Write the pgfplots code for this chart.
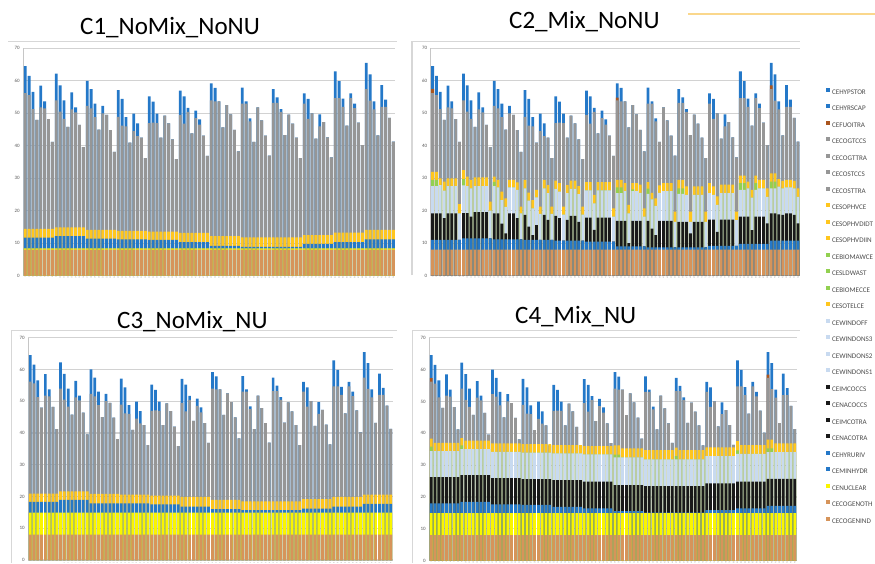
\documentclass[border=0pt]{standalone}
\usepackage{fontspec}
\setmainfont{Carlito}
\usepackage{pgfplots}
\usepackage{pgfplotstable}
\pgfplotsset{compat=1.18}

\definecolor{cOrange}{RGB}{214,148,90}
\definecolor{cNuc}{RGB}{250,245,0}
\definecolor{cHyd}{RGB}{36,120,200}
\definecolor{cSol}{RGB}{255,198,30}
\definecolor{cGrey}{RGB}{150,150,150}
\definecolor{cLB}{RGB}{200,218,240}
\definecolor{cBlk}{RGB}{25,25,25}
\definecolor{cGrn}{RGB}{146,208,80}
\definecolor{cBrn}{RGB}{170,85,30}
\definecolor{cFrame}{RGB}{215,215,215}
\definecolor{cDeco}{RGB}{250,215,140}

% tops of each layer, bar by bar (layers are drawn over each other from 0)
% T total, G top of fossil (grey), O CHP, Na/Nb nuclear (C1 / C3,C4)
% S,H = solar and hydro tops in C1/C3; H2 K2 L2 E2 Y2 = hydro, coal, wind, bio, solar tops in C2; same for C4
\pgfplotstableread{
x T G O Na Nb S1 H1 S3 H3 H2 K2 L2 E2 Y2 H4 K4 L4 E4 Y4
1 64.5 56.2 8 8.4 14.9 14.4 11.7 20.9 18.3 11.0 19.2 27.6 29.5 32.0 18.0 26.2 34.4 35.8 38.3
2 61.5 55.6 8 8.4 14.9 14.4 11.7 20.9 18.3 11.0 19.2 27.6 29.5 32.0 18.0 26.2 34.4 34.4 37.0
3 56.6 51.3 8 8.4 14.9 14.4 11.7 20.9 18.3 11.0 19.2 27.9 27.9 30.0 18.0 26.2 34.4 34.4 37.0
4 48.0 48.0 8 8.4 14.9 14.4 11.7 20.9 18.3 11.0 17.7 26.2 26.2 29.0 18.0 26.2 34.4 34.4 37.0
5 58.5 51.8 8 8.4 14.9 14.4 11.7 20.9 18.3 11.0 19.2 27.6 27.6 30.0 18.0 26.2 34.4 34.4 37.0
6 53.7 51.5 8 8.4 14.9 14.4 11.7 20.9 18.3 11.0 19.2 27.6 27.6 30.0 18.0 26.2 34.4 34.4 37.0
7 48.2 48.2 8 8.4 14.9 14.4 11.7 20.9 18.3 11.0 19.2 27.6 27.6 30.0 18.0 26.2 34.4 34.4 37.0
8 41.2 41.2 8 8.4 14.9 14.4 11.7 20.9 18.3 11.0 11.0 19.2 19.2 22.0 18.0 26.2 34.4 34.4 37.0
9 62.2 54.0 8 8.4 14.9 14.9 12.2 21.6 18.9 11.5 19.3 27.8 29.7 32.5 18.5 26.9 35.0 36.2 38.5
10 58.6 50.5 8 8.4 14.9 14.9 12.2 21.6 18.9 11.5 19.3 27.6 27.6 30.5 18.5 26.9 35.0 35.0 37.7
11 54.0 48.3 8 8.4 14.9 14.9 12.2 21.6 18.9 11.5 18.2 26.9 26.9 29.5 18.5 26.9 35.0 35.0 37.7
12 45.8 45.8 8 8.4 14.9 14.9 12.2 21.6 18.9 11.5 19.6 27.6 27.6 30.3 18.5 26.9 35.0 35.0 37.7
13 56.4 51.2 8 8.4 14.9 14.9 12.2 21.6 18.9 11.5 19.6 27.6 27.6 30.3 18.5 26.9 35.0 35.0 37.7
14 51.8 50.3 8 8.4 14.9 14.9 12.2 21.6 18.9 11.5 19.6 27.6 27.6 30.3 18.5 26.9 35.0 35.0 37.7
15 46.4 46.4 8 8.4 14.9 14.9 12.2 21.6 18.9 11.5 19.6 27.6 27.6 30.3 18.5 26.9 35.0 35.0 37.7
16 39.6 39.6 8 8.4 14.9 14.9 12.2 21.6 18.9 11.5 11.5 20.0 20.0 22.8 18.5 26.9 35.0 35.0 37.7
17 60.0 52.3 8 8.4 14.9 14.1 11.4 20.8 17.8 11.2 19.2 27.6 28.9 30.5 17.7 25.9 34.2 34.2 36.8
18 57.4 51.5 8 8.4 14.9 14.1 11.4 20.8 17.8 11.2 19.2 27.2 27.2 29.5 17.7 25.9 34.2 34.2 36.8
19 53.0 48.8 8 8.4 14.9 14.1 11.4 20.8 17.8 11.2 16.0 23.3 23.3 25.9 17.7 25.9 34.2 34.2 36.8
20 45.0 45.0 8 8.4 14.9 14.1 11.4 20.8 17.8 11.2 13.0 21.2 21.2 23.8 17.7 25.9 34.2 34.2 36.8
21 52.3 50.0 8 8.4 14.9 14.1 11.4 20.8 17.8 11.2 19.2 27.2 27.2 29.5 17.7 25.9 34.2 34.2 36.8
22 49.5 49.5 8 8.4 14.9 14.1 11.4 20.8 17.8 11.2 19.2 27.2 27.2 29.5 17.7 25.9 34.2 34.2 36.8
23 44.8 44.8 8 8.4 14.9 14.1 11.4 20.8 17.8 11.2 17.7 26.4 26.4 28.7 17.7 25.9 34.2 34.2 36.8
24 38.1 38.1 8 8.4 14.9 14.1 11.4 20.8 17.8 11.2 11.2 19.2 19.2 21.3 17.7 25.9 34.2 34.2 36.8
25 57.1 48.9 8 8.4 14.9 13.8 11.2 20.6 17.8 11.0 18.7 26.9 26.9 29.5 17.5 25.6 33.9 33.9 36.6
26 54.4 46.2 8 8.4 14.9 13.8 11.2 20.6 17.8 11.0 15.1 23.1 23.1 25.6 17.5 25.6 33.9 33.9 36.6
27 48.8 46.0 8 8.4 14.9 13.8 11.2 20.6 17.8 11.0 12.5 20.7 20.7 23.3 17.5 25.6 33.9 33.9 36.6
28 41.0 41.0 8 8.4 14.9 13.8 11.2 20.6 17.8 11.0 15.6 24.1 24.1 26.4 17.5 25.6 33.9 33.9 36.6
29 49.9 44.5 8 8.4 14.9 13.8 11.2 20.6 17.8 11.0 11.0 19.0 19.0 21.3 17.5 25.6 33.9 33.9 36.6
30 46.9 43.0 8 8.4 14.9 13.8 11.2 20.6 17.8 11.0 18.7 26.9 26.9 29.5 17.5 25.6 33.9 33.9 36.6
31 42.5 42.5 8 8.4 14.9 13.8 11.2 20.6 17.8 11.0 17.2 25.4 25.4 27.9 17.5 25.6 33.9 33.9 36.6
32 36.2 36.2 8 8.4 14.9 13.8 11.2 20.6 17.8 11.0 11.0 19.0 19.0 21.3 17.5 25.6 33.9 33.9 36.6
33 55.2 47.0 8 8.4 14.9 13.6 11.0 20.3 17.5 10.8 18.4 26.7 26.7 29.3 16.9 25.3 33.7 33.7 36.3
34 53.6 47.1 8 8.4 14.9 13.6 11.0 20.3 17.5 10.8 17.7 25.9 25.9 28.5 16.9 25.3 33.7 33.7 36.3
35 49.9 47.0 8 8.4 14.9 13.6 11.0 20.3 17.5 10.8 10.8 18.8 18.8 21.3 16.9 25.3 33.7 33.7 36.3
36 42.5 42.5 8 8.4 14.9 13.6 11.0 20.3 17.5 10.8 17.2 25.4 25.4 27.9 16.9 25.3 33.7 33.7 36.3
37 49.3 49.3 8 8.4 14.9 13.6 11.0 20.3 17.5 10.8 18.4 26.7 26.7 29.3 16.9 25.3 33.7 33.7 36.3
38 46.9 46.9 8 8.4 14.9 13.6 11.0 20.3 17.5 10.8 18.4 26.7 26.7 29.3 16.9 25.3 33.7 33.7 36.3
39 42.0 42.0 8 8.4 14.9 13.6 11.0 20.3 17.5 10.8 16.6 25.1 25.1 27.6 16.9 25.3 33.7 33.7 36.3
40 35.9 35.9 8 8.4 14.9 13.6 11.0 20.3 17.5 10.8 10.8 18.8 18.8 21.3 16.9 25.3 33.7 33.7 36.3
41 57.0 49.5 8 8.4 14.9 13.2 10.3 19.9 16.8 10.5 17.9 26.3 26.3 28.8 16.4 24.8 33.4 33.4 36.0
42 55.2 46.8 8 8.4 14.9 13.2 10.3 19.9 16.8 10.5 17.9 26.3 26.3 28.8 16.4 24.8 33.4 33.4 36.0
43 51.7 50.4 8 8.4 14.9 13.2 10.3 19.9 16.8 10.5 14.1 22.3 22.3 24.9 16.4 24.8 33.4 33.4 36.0
44 43.8 43.8 8 8.4 14.9 13.2 10.3 19.9 16.8 10.5 17.9 26.3 26.3 28.8 16.4 24.8 33.4 33.4 36.0
45 50.8 48.5 8 8.4 14.9 13.2 10.3 19.9 16.8 10.5 17.9 26.3 26.3 28.8 16.4 24.8 33.4 33.4 36.0
46 48.1 46.5 8 8.4 14.9 13.2 10.3 19.9 16.8 10.5 17.9 26.3 26.3 28.8 16.4 24.8 33.4 33.4 36.0
47 43.1 43.1 8 8.4 14.9 13.2 10.3 19.9 16.8 10.5 17.9 26.3 26.3 28.8 16.4 24.8 33.4 33.4 36.0
48 36.9 36.9 8 8.4 14.9 13.2 10.3 19.9 16.8 10.5 10.5 18.2 18.2 20.7 16.4 24.8 33.4 33.4 36.0
49 59.2 54.0 8 8.4 14.9 12.2 9.2 18.9 16.0 9.0 16.9 25.4 27.2 29.5 15.6 23.7 32.4 33.3 36.2
50 57.8 53.7 8 8.4 14.9 12.2 9.2 18.9 16.0 9.0 16.9 25.4 27.2 29.5 15.6 23.7 32.4 33.3 36.2
51 53.7 53.7 8 8.4 14.9 12.2 9.2 18.9 16.0 9.0 16.9 26.0 26.0 28.5 15.6 23.7 32.4 32.4 35.3
52 45.7 45.7 8 8.4 14.9 12.2 9.2 18.9 16.0 9.0 10.0 19.2 19.2 21.8 15.6 23.7 32.4 32.4 35.3
53 52.5 52.5 8 8.4 14.9 12.2 9.2 18.9 16.0 9.0 16.9 26.0 26.6 28.5 15.6 23.7 32.4 32.4 35.3
54 49.7 49.7 8 8.4 14.9 12.2 9.2 18.9 16.0 9.0 16.9 26.0 26.0 28.5 15.6 23.7 32.4 32.4 35.3
55 44.9 44.9 8 8.4 14.9 12.2 9.2 18.9 16.0 9.0 16.9 25.5 25.5 28.0 15.6 23.7 32.4 32.4 35.3
56 38.3 38.3 8 8.4 14.9 12.2 9.2 18.9 16.0 9.0 9.0 18.2 18.2 20.7 15.6 23.7 32.4 32.4 35.3
57 57.9 53.0 8 8.4 14.9 11.8 8.9 18.5 15.7 8.7 16.9 25.2 26.8 28.8 15.1 23.4 31.8 31.8 34.7
58 53.7 53.0 8 8.4 14.9 11.8 8.9 18.5 15.7 8.7 14.5 23.5 23.5 25.5 15.1 23.4 31.8 31.8 34.7
59 48.4 47.5 8 8.4 14.9 11.8 8.9 18.5 15.7 8.7 12.5 21.5 21.5 23.8 15.1 23.4 31.8 31.8 34.7
60 41.2 41.2 8 8.4 14.9 11.8 8.9 18.5 15.7 8.7 16.9 25.5 25.5 27.8 15.1 23.4 31.8 31.8 34.7
61 51.8 51.8 8 8.4 14.9 11.8 8.9 18.5 15.7 8.7 16.9 26.0 26.0 28.5 15.1 23.4 31.8 31.8 34.7
62 47.8 47.8 8 8.4 14.9 11.8 8.9 18.5 15.7 8.7 16.9 26.0 26.0 28.5 15.1 23.4 31.8 31.8 34.7
63 43.1 43.1 8 8.4 14.9 11.8 8.9 18.5 15.7 8.7 16.9 26.0 26.0 28.5 15.1 23.4 31.8 31.8 34.7
64 37.0 37.0 8 8.4 14.9 11.8 8.9 18.5 15.7 8.7 8.7 16.6 16.6 19.7 15.1 23.4 31.8 31.8 34.7
65 57.4 53.2 8 8.4 14.9 11.8 8.9 18.5 15.7 8.7 16.6 25.2 26.9 29.5 15.1 23.4 31.8 32.8 35.5
66 54.9 53.2 8 8.4 14.9 11.8 8.9 18.5 15.7 8.7 16.6 25.2 26.9 29.5 15.1 23.4 31.8 31.8 34.7
67 51.3 50.4 8 8.4 14.9 11.8 8.9 18.5 15.7 8.7 16.6 24.9 24.9 27.5 15.1 23.4 31.8 31.8 34.7
68 43.3 43.3 8 8.4 14.9 11.8 8.9 18.5 15.7 8.7 13.0 16.6 16.6 19.7 15.1 23.4 31.8 31.8 34.7
69 49.6 49.6 8 8.4 14.9 11.8 8.9 18.5 15.7 8.7 16.6 24.9 24.9 27.5 15.1 23.4 31.8 31.8 34.7
70 46.8 46.8 8 8.4 14.9 11.8 8.9 18.5 15.7 8.7 16.6 24.9 24.9 27.5 15.1 23.4 31.8 31.8 34.7
71 42.5 42.5 8 8.4 14.9 11.8 8.9 18.5 15.7 8.7 16.6 24.9 24.9 27.5 15.1 23.4 31.8 31.8 34.7
72 36.2 36.2 8 8.4 14.9 11.8 8.9 18.5 15.7 8.7 8.7 16.6 16.6 19.7 15.1 23.4 31.8 31.8 34.7
73 56.1 53.0 8 8.4 14.9 12.5 9.8 19.2 16.2 9.2 17.3 25.4 25.4 28.5 15.9 24.3 32.8 32.8 35.6
74 54.4 48.3 8 8.4 14.9 12.5 9.8 19.2 16.2 9.2 17.3 24.9 24.9 27.5 15.9 24.3 32.8 32.8 35.6
75 50.0 50.0 8 8.4 14.9 12.5 9.8 19.2 16.2 9.2 13.5 21.8 21.8 24.4 15.9 24.3 32.8 32.8 35.6
76 42.2 42.2 8 8.4 14.9 12.5 9.8 19.2 16.2 9.2 17.3 25.4 25.4 28.0 15.9 24.3 32.8 32.8 35.6
77 49.7 46.0 8 8.4 14.9 12.5 9.8 19.2 16.2 9.2 17.3 25.4 25.4 28.0 15.9 24.3 32.8 32.8 35.6
78 47.3 47.3 8 8.4 14.9 12.5 9.8 19.2 16.2 9.2 17.3 25.4 25.4 28.0 15.9 24.3 32.8 32.8 35.6
79 42.6 42.6 8 8.4 14.9 12.5 9.8 19.2 16.2 9.2 17.3 25.4 25.4 28.0 15.9 24.3 32.8 32.8 35.6
80 36.4 36.4 8 8.4 14.9 12.5 9.8 19.2 16.2 9.2 9.2 17.1 17.1 19.7 15.9 24.3 32.8 32.8 35.6
81 62.9 54.7 8 8.4 14.9 13.3 10.3 19.9 16.8 9.8 18.2 26.4 28.5 30.8 16.4 24.8 33.5 34.6 37.5
82 59.9 54.7 8 8.4 14.9 13.3 10.3 19.9 16.8 9.8 18.2 26.4 28.5 30.8 16.4 24.8 33.5 33.5 36.3
83 54.5 52.0 8 8.4 14.9 13.3 10.3 19.9 16.8 9.8 18.2 26.9 26.9 29.0 16.4 24.8 33.5 33.5 36.3
84 46.2 46.2 8 8.4 14.9 13.3 10.3 19.9 16.8 9.8 14.0 24.0 24.0 26.4 16.4 24.8 33.5 33.5 36.3
85 56.1 54.7 8 8.4 14.9 13.3 10.3 19.9 16.8 9.8 18.2 26.4 28.5 30.8 16.4 24.8 33.5 33.5 36.3
86 53.0 51.6 8 8.4 14.9 13.3 10.3 19.9 16.8 9.8 18.2 26.9 26.9 29.5 16.4 24.8 33.5 33.5 36.3
87 47.1 47.1 8 8.4 14.9 13.3 10.3 19.9 16.8 9.8 18.2 26.9 26.9 29.5 16.4 24.8 33.5 33.5 36.3
88 40.2 40.2 8 8.4 14.9 13.3 10.3 19.9 16.8 9.8 16.1 24.3 24.3 26.9 16.4 24.8 33.5 33.5 36.3
89 65.5 57.4 8 8.4 14.9 14.1 11.2 20.6 17.7 10.8 19.2 26.9 29.0 31.5 17.2 25.7 34.1 35.3 38.0
90 62.0 53.9 8 8.4 14.9 14.1 11.2 20.6 17.7 10.8 19.2 26.9 29.0 31.5 17.2 25.7 34.1 35.3 38.0
91 53.7 51.2 8 8.4 14.9 14.1 11.2 20.6 17.7 10.8 18.9 27.4 27.4 29.7 17.2 25.7 34.1 34.1 36.8
92 43.2 43.2 8 8.4 14.9 14.1 11.2 20.6 17.7 10.8 18.7 26.9 26.9 29.2 17.2 25.7 34.1 34.1 36.8
93 58.7 52.0 8 8.4 14.9 14.1 11.2 20.6 17.7 10.8 19.2 27.2 27.2 29.5 17.2 25.7 34.1 34.1 36.8
94 54.2 52.0 8 8.4 14.9 14.1 11.2 20.6 17.7 10.8 19.2 27.2 27.2 29.5 17.2 25.7 34.1 34.1 36.8
95 48.6 48.6 8 8.4 14.9 14.1 11.2 20.6 17.7 10.8 18.7 26.9 26.9 29.2 17.2 25.7 34.1 34.1 36.8
96 41.3 41.3 8 8.4 14.9 14.1 11.2 20.6 17.7 10.8 16.1 24.3 24.3 26.9 17.2 25.7 34.1 34.1 36.8
}\data

\pgfplotsset{
  panel/.style={
    scale only axis, anchor=south west,
    xmin=0.5, xmax=96.5, ymin=0, ymax=70,
    ytick={0,10,...,70}, ymajorgrids,
    grid style={line width=1.1pt, gray!35},
    axis x line*=bottom, axis y line*=left,
    axis line style={gray!45, line width=0.6pt},
    ytick style={draw=none},
    xtick={1,...,96}, major tick length=1.2pt,
    xtick style={gray!50, line width=0.3pt},
    /pgf/number format/assume math mode=true,
    yticklabel style={font=\fontsize{5}{6}\selectfont, text=gray!70!black},
    xticklabel style={font=\fontsize{2.2}{2.5}\selectfont, text=gray!70, rotate=90, anchor=east, inner sep=0.6pt},
    every axis plot/.append style={ybar, bar width=0.72, bar shift=0pt, draw=none},
  },
}
\newcommand\legitem[2]{\addlegendimage{fill=#1}\addlegendentry{#2}}

\begin{document}
\begin{tikzpicture}
\path[use as bounding box] (0,0) rectangle (875pt,-563pt);

% chart frames and slide decoration
\draw[cFrame, line width=1.2pt] (8pt,-41.7pt) -- (397pt,-41.7pt);
\draw[cFrame, line width=1.2pt] (412pt,-275pt) -- (412pt,-41.7pt) -- (800pt,-41.7pt);
\draw[cFrame, line width=1.2pt] (11.7pt,-563pt) -- (11.7pt,-330.7pt) -- (397pt,-330.7pt);
\draw[cFrame, line width=1.2pt] (412.7pt,-563pt) -- (412.7pt,-330.7pt) -- (800pt,-330.7pt);
\draw[cDeco, line width=1.6pt] (688pt,-14pt) -- (875pt,-14pt);

% titles
\node[anchor=base west, inner sep=0pt, font=\fontsize{25}{30}\selectfont] at (80pt,-34pt) {C1\_NoMix\_NoNU};
\node[anchor=base west, inner sep=0pt, font=\fontsize{25}{30}\selectfont] at (509pt,-28pt) {C2\_Mix\_NoNU};
\node[anchor=base west, inner sep=0pt, font=\fontsize{25}{30}\selectfont] at (117pt,-328pt) {C3\_NoMix\_NU};
\node[anchor=base west, inner sep=0pt, font=\fontsize{25}{30}\selectfont] at (515pt,-323pt) {C4\_Mix\_NU};

% C1
\begin{axis}[panel, at={(23.3pt,-275.7pt)}, width=372pt, height=227.4pt]
\addplot[fill=cHyd] table[x=x, y=T] {\data};
\addplot[fill=cGrey] table[x=x, y=G] {\data};
\addplot[fill=cSol] table[x=x, y=S1] {\data};
\addplot[fill=cHyd] table[x=x, y=H1] {\data};
\addplot[fill=cNuc] table[x=x, y=Na] {\data};
\addplot[fill=cOrange] table[x=x, y=O] {\data};
\end{axis}

% C2
\begin{axis}[panel, at={(430.7pt,-275.7pt)}, width=369.3pt, height=227.4pt]
\addplot[fill=cHyd] table[x=x, y=T] {\data};
\addplot[fill=cBrn] coordinates {(1,57.5) (49,54.8) (89,58.6)};
\addplot[fill=cGrey] table[x=x, y=G] {\data};
\addplot[fill=cSol] table[x=x, y=Y2] {\data};
\addplot[fill=cGrn] table[x=x, y=E2] {\data};
\addplot[fill=cLB] table[x=x, y=L2] {\data};
\addplot[fill=cBlk] table[x=x, y=K2] {\data};
\addplot[fill=cHyd] table[x=x, y=H2] {\data};
\addplot[fill=cOrange] table[x=x, y=O] {\data};
\end{axis}

% C3
\begin{axis}[panel, at={(28.3pt,-560pt)}, width=364.4pt, height=222.3pt]
\addplot[fill=cHyd] table[x=x, y=T] {\data};
\addplot[fill=cGrey] table[x=x, y=G] {\data};
\addplot[fill=cSol] table[x=x, y=S3] {\data};
\addplot[fill=cHyd] table[x=x, y=H3] {\data};
\addplot[fill=cNuc] table[x=x, y=Nb] {\data};
\addplot[fill=cOrange] table[x=x, y=O] {\data};
\end{axis}

% C4
\begin{axis}[panel, at={(429.3pt,-560.7pt)}, width=367.4pt, height=223pt]
\addplot[fill=cHyd] table[x=x, y=T] {\data};
\addplot[fill=cBrn] coordinates {(1,57.3) (89,58.4)};
\addplot[fill=cGrey] table[x=x, y=G] {\data};
\addplot[fill=cSol] table[x=x, y=Y4] {\data};
\addplot[fill=cGrn] table[x=x, y=E4] {\data};
\addplot[fill=cLB] table[x=x, y=L4] {\data};
\addplot[fill=cBlk] table[x=x, y=K4] {\data};
\addplot[fill=cHyd] table[x=x, y=H4] {\data};
\addplot[fill=cNuc] table[x=x, y=Nb] {\data};
\addplot[fill=cOrange] table[x=x, y=O] {\data};
\end{axis}

% shared legend
\begin{axis}[hide axis, scale only axis, width=2pt, height=2pt,
  xmin=0, xmax=1, ymin=0, ymax=1,
  at={(826.2pt,-87.6pt)}, anchor=south west,
  legend cell align=left,
  legend image code/.code={\fill[#1, draw=none] (0pt,0.3pt) rectangle (4pt,4.3pt);},
  legend style={at={(0,0)}, anchor=north west, draw=none, fill=none,
    inner sep=0pt, outer sep=0pt, row sep=9.4pt, column sep=0pt,
    font=\fontsize{7.1}{8}\selectfont, text=gray!60!black,
    nodes={inner sep=0.5pt, text height=4.6pt, text depth=0pt, anchor=west},
    /tikz/every odd column/.append style={column sep=1.3pt}}]
\legitem{cHyd}{CEHYPSTOR}
\legitem{cHyd}{CEHYRSCAP}
\legitem{cBrn}{CEFUOITRA}
\legitem{cGrey}{CECOGTCCS}
\legitem{cGrey}{CECOGTTRA}
\legitem{cGrey}{CECOSTCCS}
\legitem{cGrey}{CECOSTTRA}
\legitem{cSol}{CESOPHVCE}
\legitem{cSol}{CESOPHVDIDT}
\legitem{cSol}{CESOPHVDIIN}
\legitem{cGrn}{CEBIOMAWCE}
\legitem{cGrn}{CESLDWAST}
\legitem{cGrn}{CEBIOMECCE}
\legitem{cSol}{CESOTELCE}
\legitem{cLB}{CEWINDOFF}
\legitem{cLB}{CEWINDONS3}
\legitem{cLB}{CEWINDONS2}
\legitem{cLB}{CEWINDONS1}
\legitem{cBlk}{CEIMCOCCS}
\legitem{cBlk}{CENACOCCS}
\legitem{cBlk}{CEIMCOTRA}
\legitem{cBlk}{CENACOTRA}
\legitem{cHyd}{CEHYRURIV}
\legitem{cHyd}{CEMINHYDR}
\legitem{cNuc}{CENUCLEAR}
\legitem{cOrange}{CECOGENOTH}
\legitem{cOrange}{CECOGENIND}
\end{axis}
\end{tikzpicture}
\end{document}
